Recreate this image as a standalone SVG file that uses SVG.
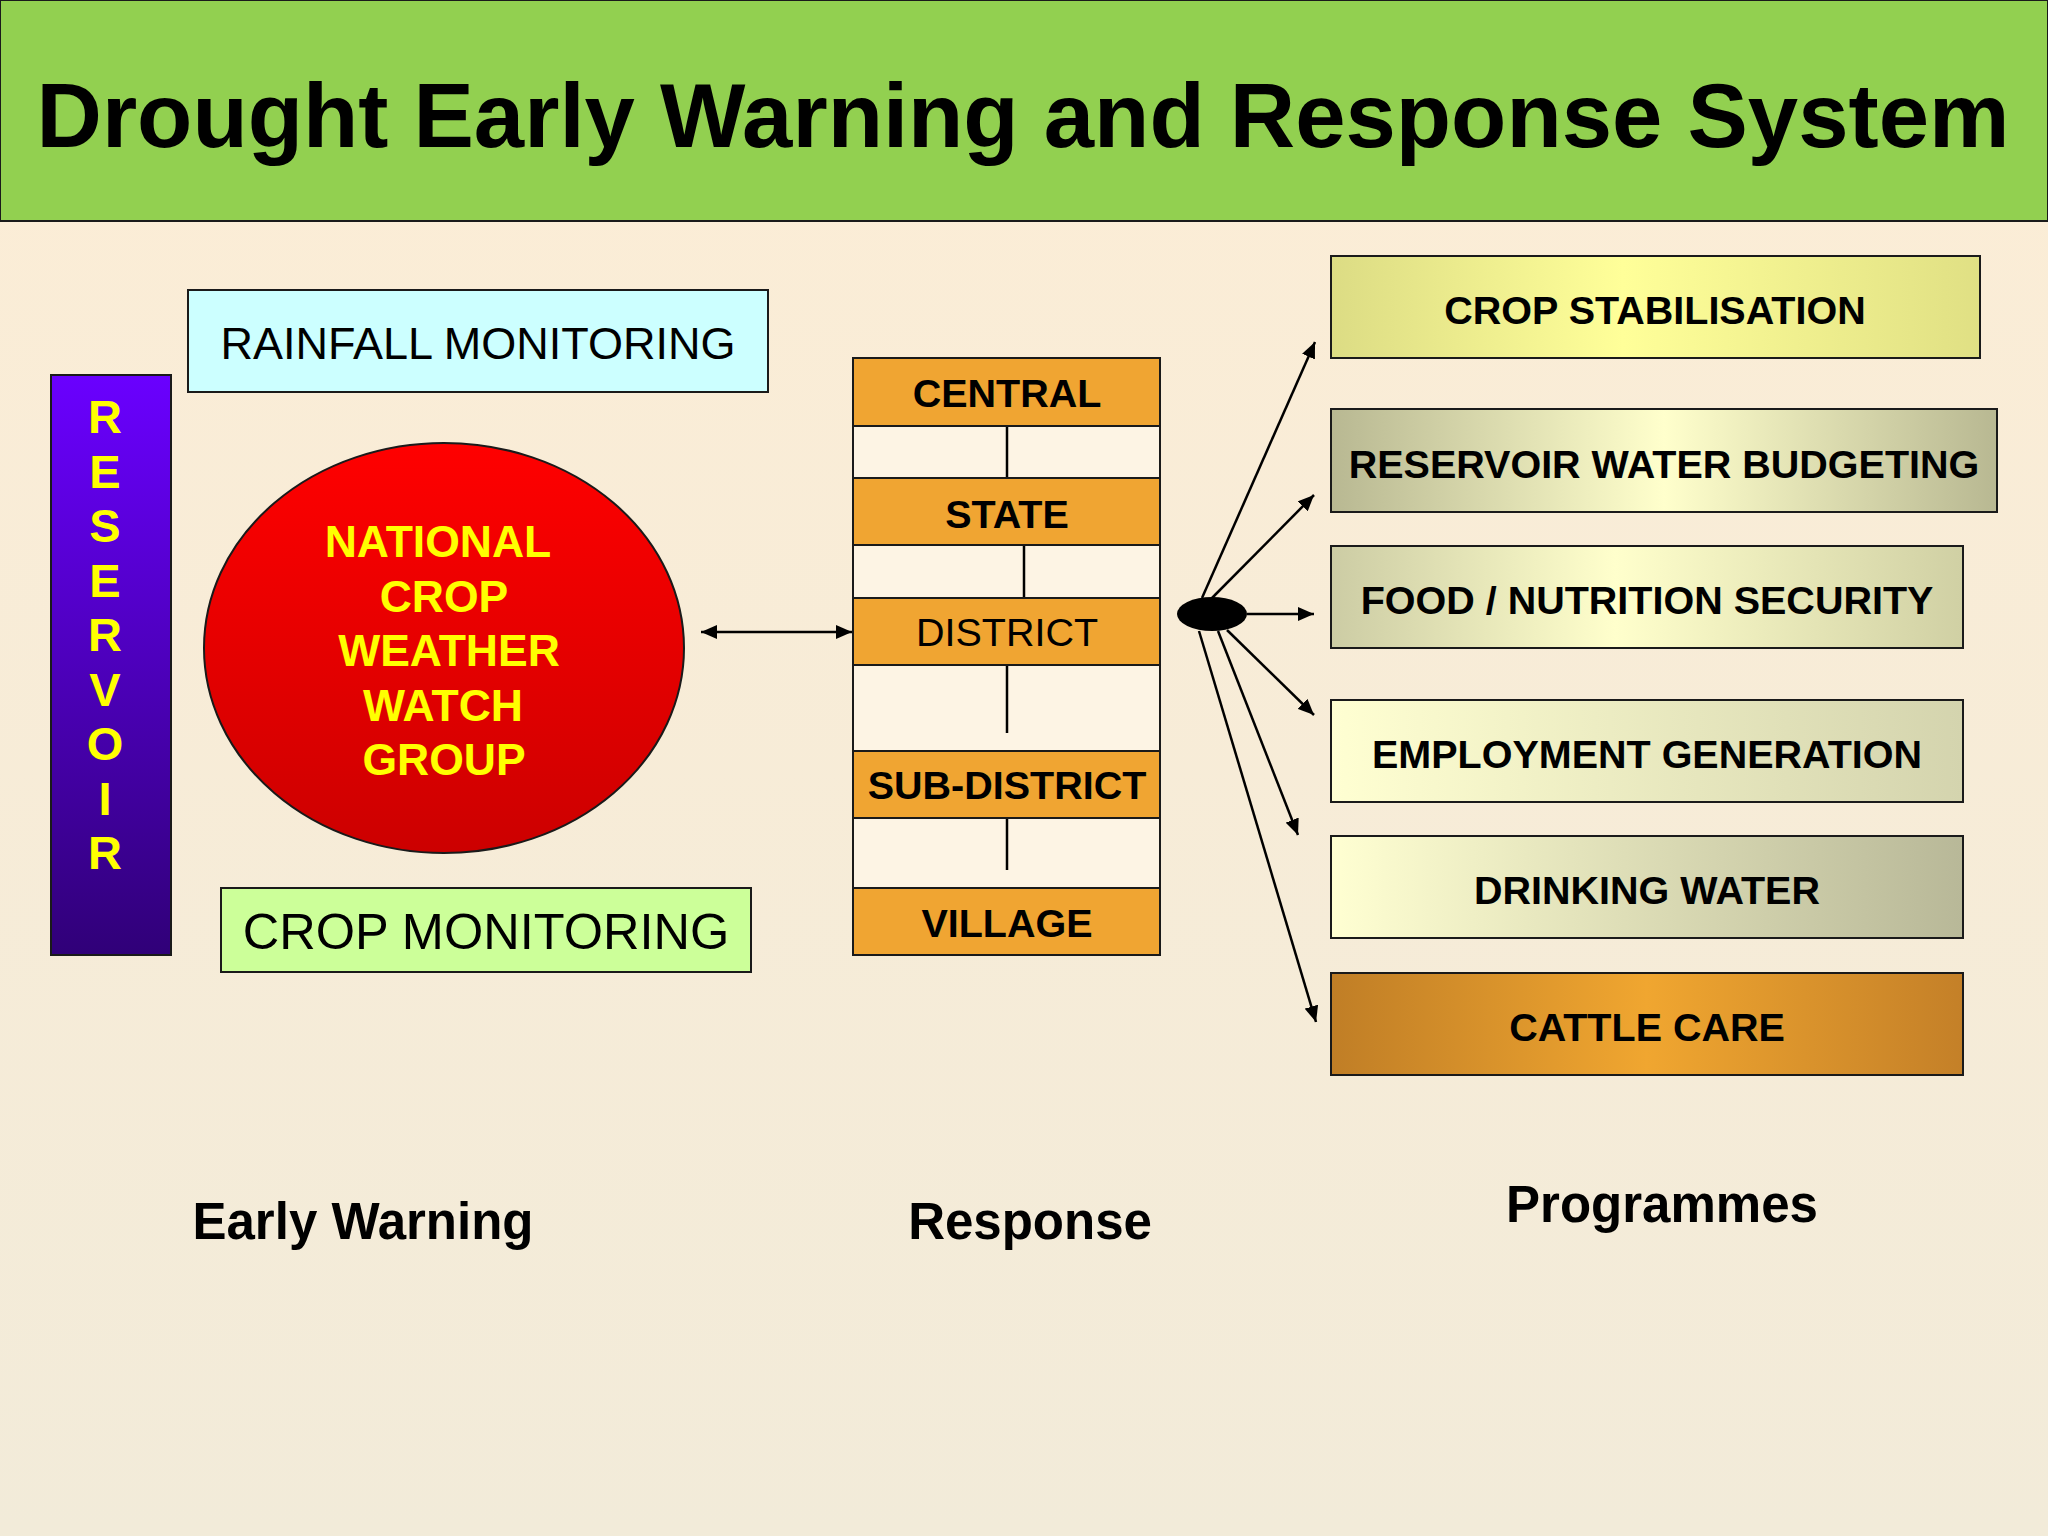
<svg xmlns="http://www.w3.org/2000/svg" width="2048" height="1536" viewBox="0 0 2048 1536">
<defs>
<linearGradient id="bg" x1="0" y1="0" x2="0" y2="1"><stop offset="0" stop-color="#FCEDD6"/><stop offset="1" stop-color="#F2EBD9"/></linearGradient>
<linearGradient id="res" x1="0" y1="0" x2="0" y2="1"><stop offset="0" stop-color="#6A00FF"/><stop offset="1" stop-color="#300078"/></linearGradient>
<linearGradient id="red" x1="0" y1="0" x2="0" y2="1"><stop offset="0" stop-color="#FF0000"/><stop offset="1" stop-color="#CC0000"/></linearGradient>
<linearGradient id="g1" x1="0" y1="0" x2="1" y2="0"><stop offset="0" stop-color="#DCDC84"/><stop offset="0.45" stop-color="#FFFF99"/><stop offset="1" stop-color="#E0E084"/></linearGradient>
<linearGradient id="g2" x1="0" y1="0" x2="1" y2="0"><stop offset="0" stop-color="#B8B892"/><stop offset="0.5" stop-color="#FFFFCC"/><stop offset="1" stop-color="#B8B892"/></linearGradient>
<linearGradient id="g3" x1="0" y1="0" x2="1" y2="0"><stop offset="0" stop-color="#CCCCA4"/><stop offset="0.45" stop-color="#FFFFCC"/><stop offset="1" stop-color="#D0D0A4"/></linearGradient>
<linearGradient id="g4" x1="0" y1="0" x2="1" y2="0"><stop offset="0" stop-color="#FFFFD2"/><stop offset="1" stop-color="#D4D4AE"/></linearGradient>
<linearGradient id="g5" x1="0" y1="0" x2="1" y2="0"><stop offset="0" stop-color="#FFFFD2"/><stop offset="1" stop-color="#B8B898"/></linearGradient>
<linearGradient id="g6" x1="0" y1="0" x2="1" y2="0"><stop offset="0" stop-color="#C07E26"/><stop offset="0.5" stop-color="#F0A630"/><stop offset="1" stop-color="#C48028"/></linearGradient>
<marker id="ah" viewBox="0 0 16 14" refX="16" refY="7" markerWidth="16" markerHeight="14" markerUnits="userSpaceOnUse" orient="auto-start-reverse"><path d="M0,0 L16,7 L0,14 z" fill="#000"/></marker>
<style>
text{font-family:"Liberation Sans",Arial,sans-serif;}
.box{stroke:#1a1a1a;stroke-width:2;}
.b{font-weight:bold;}
.lvl{fill:#F0A532;stroke:#1a1a1a;stroke-width:2;}
.ln{stroke:#000;stroke-width:2.5;fill:none;}
.conn{stroke:#000;stroke-width:2.5;fill:none;marker-end:url(#ah);}
.pt{font-weight:bold;font-size:39.5px;text-anchor:middle;fill:#000;}
.rt{font-size:39.5px;text-anchor:middle;fill:#000;}
.yt{font-weight:bold;font-size:44.5px;text-anchor:middle;fill:#FFFF00;}
.st{font-weight:bold;font-size:51px;text-anchor:middle;fill:#000;}
</style>
</defs>
<rect x="0" y="0" width="2048" height="1536" fill="url(#bg)"/>
<g id="title">
<rect x="0" y="0" width="2048" height="221" fill="#92D050" stroke="#1a1a1a" stroke-width="2"/>
<text x="1023" y="147" font-size="90.5" font-weight="bold" text-anchor="middle" fill="#000">Drought Early Warning and Response System</text>
</g>
<g id="reservoir">
<rect class="box" x="51" y="375" width="120" height="580" fill="url(#res)"/>
<g class="b" font-size="47" text-anchor="middle" fill="#FFFF00">
<text x="105" y="433">R</text><text x="105" y="488">E</text><text x="105" y="542">S</text><text x="105" y="597">E</text><text x="105" y="651">R</text><text x="105" y="706">V</text><text x="105" y="760">O</text><text x="105" y="815">I</text><text x="105" y="869">R</text>
</g>
</g>
<g id="rainfall">
<rect class="box" x="188" y="290" width="580" height="102" fill="#CCFFFF"/>
<text x="478" y="359" font-size="45" text-anchor="middle" fill="#000">RAINFALL MONITORING</text>
</g>
<g id="ncwwg">
<ellipse cx="444" cy="648" rx="240" ry="205" fill="url(#red)" stroke="#1a1a1a" stroke-width="2"/>
<text class="yt" x="438" y="557">NATIONAL</text>
<text class="yt" x="444" y="612">CROP</text>
<text class="yt" x="449" y="666">WEATHER</text>
<text class="yt" x="443" y="721">WATCH</text>
<text class="yt" x="444" y="775">GROUP</text>
</g>
<g id="cropmon">
<rect class="box" x="221" y="888" width="530" height="84" fill="#CCFF99"/>
<text x="486" y="949" font-size="50.5" text-anchor="middle" fill="#000">CROP MONITORING</text>
</g>
<g id="response">
<rect x="853" y="358" width="307" height="597" fill="#FDF4E4" stroke="#1a1a1a" stroke-width="2"/>
<line class="ln" x1="1007" y1="426" x2="1007" y2="478"/>
<line class="ln" x1="1024" y1="545" x2="1024" y2="598"/>
<line class="ln" x1="1007" y1="665" x2="1007" y2="733"/>
<line class="ln" x1="1007" y1="818" x2="1007" y2="870"/>
<g id="central"><rect class="lvl" x="853" y="358" width="307" height="68"/><text class="pt" x="1007" y="407">CENTRAL</text></g>
<g id="state"><rect class="lvl" x="853" y="478" width="307" height="67"/><text class="pt" x="1007" y="528">STATE</text></g>
<g id="district"><rect class="lvl" x="853" y="598" width="307" height="67"/><text class="rt" x="1007" y="646">DISTRICT</text></g>
<g id="subdistrict"><rect class="lvl" x="853" y="751" width="307" height="67"/><text class="pt" x="1007" y="799">SUB-DISTRICT</text></g>
<g id="village"><rect class="lvl" x="853" y="888" width="307" height="67"/><text class="pt" x="1007" y="937">VILLAGE</text></g>
</g>
<g id="hub"><ellipse cx="1212" cy="614" rx="35" ry="17" fill="#000"/></g>
<g id="p1"><rect class="box" x="1331" y="256" width="649" height="102" fill="url(#g1)"/><text class="pt" x="1655" y="324">CROP STABILISATION</text></g>
<g id="p2"><rect class="box" x="1331" y="409" width="666" height="103" fill="url(#g2)"/><text class="pt" x="1664" y="478">RESERVOIR WATER BUDGETING</text></g>
<g id="p3"><rect class="box" x="1331" y="546" width="632" height="102" fill="url(#g3)"/><text class="pt" x="1647" y="614">FOOD / NUTRITION SECURITY</text></g>
<g id="p4"><rect class="box" x="1331" y="700" width="632" height="102" fill="url(#g4)"/><text class="pt" x="1647" y="768">EMPLOYMENT GENERATION</text></g>
<g id="p5"><rect class="box" x="1331" y="836" width="632" height="102" fill="url(#g5)"/><text class="pt" x="1647" y="904">DRINKING WATER</text></g>
<g id="p6"><rect class="box" x="1331" y="973" width="632" height="102" fill="url(#g6)"/><text class="pt" x="1647" y="1041">CATTLE CARE</text></g>
<g id="connectors">
<line x1="701" y1="632" x2="852" y2="632" stroke="#000" stroke-width="2.5" marker-start="url(#ah)" marker-end="url(#ah)"/>
<line class="conn" x1="1202" y1="598" x2="1315" y2="342"/>
<line class="conn" x1="1212" y1="598" x2="1314" y2="495"/>
<line class="conn" x1="1247" y1="614" x2="1314" y2="614"/>
<line class="conn" x1="1227" y1="630" x2="1314" y2="715"/>
<line class="conn" x1="1218" y1="631" x2="1298" y2="835"/>
<line class="conn" x1="1199" y1="631" x2="1316" y2="1022"/>
</g>
<g id="labels">
<text class="st" x="363" y="1239">Early Warning</text>
<text class="st" x="1030" y="1239">Response</text>
<text class="st" x="1662" y="1222">Programmes</text>
</g>
</svg>
